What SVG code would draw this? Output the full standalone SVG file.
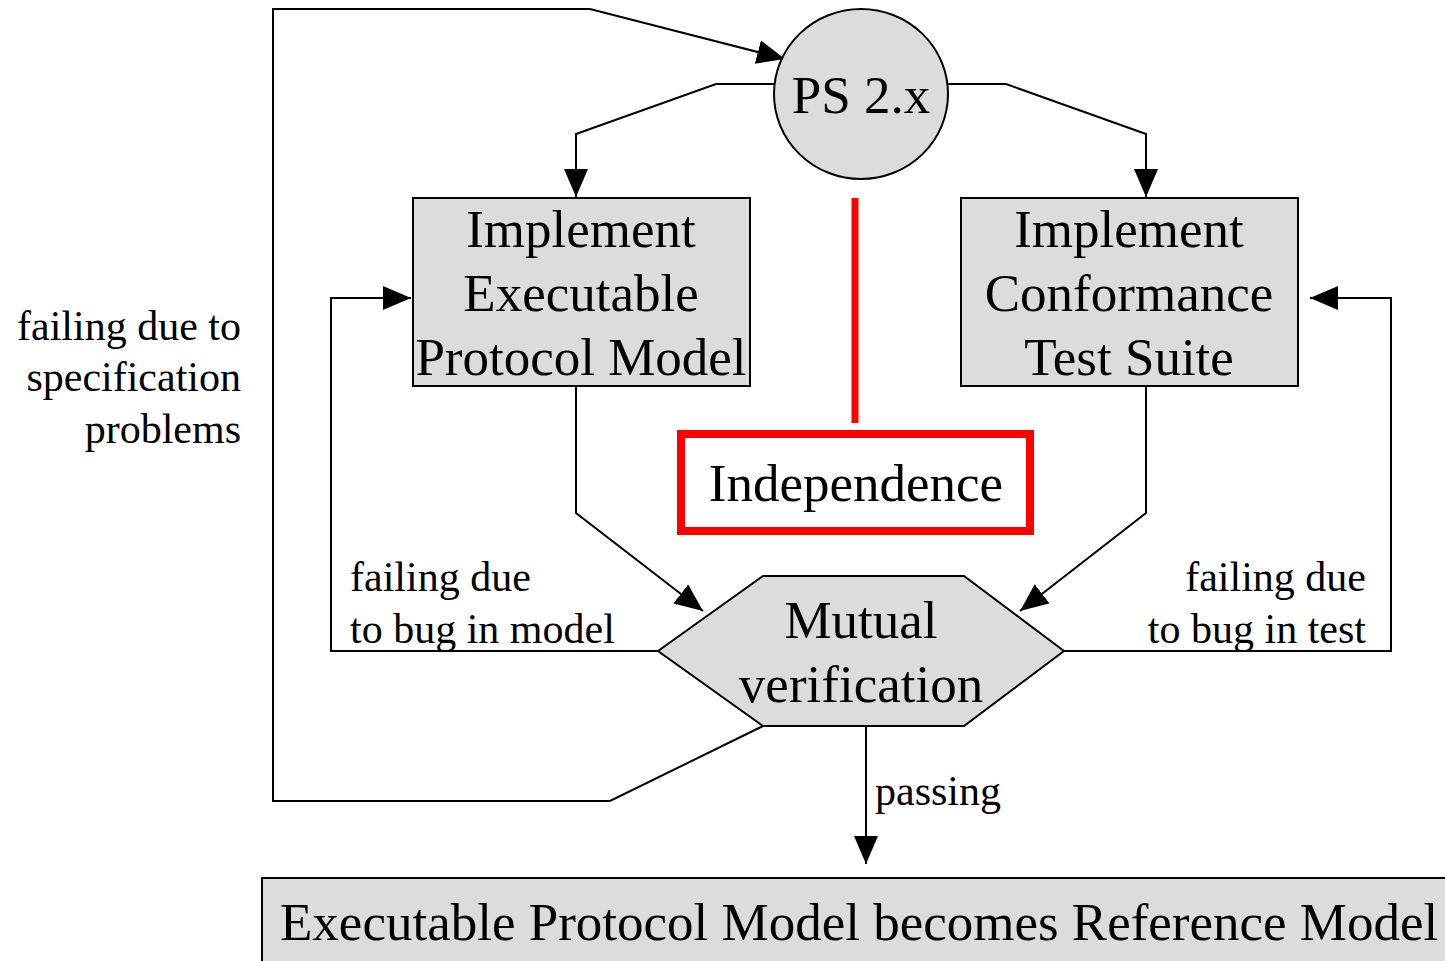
<svg xmlns="http://www.w3.org/2000/svg" width="1445" height="961" viewBox="0 0 1445 961">
<style>
.n{fill:#dcdcdc;stroke:#000;stroke-width:2}
.t{font-family:"Liberation Serif","Times New Roman",serif;font-size:53px;fill:#000}
.l{font-family:"Liberation Serif","Times New Roman",serif;font-size:42px;fill:#000}
.c{fill:none;stroke:#000;stroke-width:2}
</style>
<defs>
<marker id="ah" markerUnits="userSpaceOnUse" markerWidth="30" markerHeight="26" refX="28" refY="12" orient="auto">
<path d="M0,0 L28,12 L0,24 z" fill="#000"/>
</marker>
</defs>
<rect width="1445" height="961" fill="#fff"/>
<g id="connectors">
<polyline class="c" points="774,84 716,84 576,134 576,197" marker-end="url(#ah)"/>
<polyline class="c" points="948,84 1006,84 1146,134 1146,197" marker-end="url(#ah)"/>
<polyline class="c" points="576,386 576,513 703,611" marker-end="url(#ah)"/>
<polyline class="c" points="1146,386 1146,513 1020,611" marker-end="url(#ah)"/>
<polyline class="c" points="658,651 331,651 331,298 411,298" marker-end="url(#ah)"/>
<polyline class="c" points="1064,651 1391,651 1391,298 1310,298" marker-end="url(#ah)"/>
<polyline class="c" points="763,726 610,801 273,801 273,9 590,9 785,59" marker-end="url(#ah)"/>
<polyline class="c" points="866,726 866,864" marker-end="url(#ah)"/>
<line x1="855" y1="198" x2="855" y2="423" stroke="#ff0000" stroke-width="7"/>
</g>
<g id="ps">
<ellipse class="n" cx="861" cy="94" rx="87" ry="85"/>
<text class="t" x="861" y="113" text-anchor="middle">PS 2.x</text>
</g>
<g id="model">
<rect class="n" x="413" y="198" width="337" height="188"/>
<text class="t" x="581" y="247" text-anchor="middle">Implement</text>
<text class="t" x="581" y="311" text-anchor="middle">Executable</text>
<text class="t" x="581" y="375" text-anchor="middle">Protocol Model</text>
</g>
<g id="suite">
<rect class="n" x="961" y="198" width="337" height="188"/>
<text class="t" x="1129" y="247" text-anchor="middle">Implement</text>
<text class="t" x="1129" y="311" text-anchor="middle">Conformance</text>
<text class="t" x="1129" y="375" text-anchor="middle">Test Suite</text>
</g>
<g id="independence">
<rect x="681" y="434" width="349" height="97" fill="#fff" stroke="#ff0000" stroke-width="8"/>
<text class="t" x="856" y="501" text-anchor="middle">Independence</text>
</g>
<g id="mutual">
<polygon class="n" points="658,651 763,576 964,576 1064,651 964,726 763,726"/>
<text class="t" x="861" y="638" text-anchor="middle">Mutual</text>
<text class="t" x="861" y="702" text-anchor="middle">verification</text>
</g>
<g id="reference">
<rect class="n" x="262" y="878" width="1190" height="90"/>
<text class="t" x="280" y="940">Executable Protocol Model becomes Reference Model</text>
</g>
<g id="labels">
<text class="l" x="241" y="340" text-anchor="end">failing due to</text>
<text class="l" x="241" y="391" text-anchor="end">specification</text>
<text class="l" x="241" y="443" text-anchor="end">problems</text>
<text class="l" x="350" y="591">failing due</text>
<text class="l" x="350" y="643">to bug in model</text>
<text class="l" x="1366" y="591" text-anchor="end">failing due</text>
<text class="l" x="1366" y="643" text-anchor="end">to bug in test</text>
<text class="l" x="875" y="805">passing</text>
</g>
</svg>
